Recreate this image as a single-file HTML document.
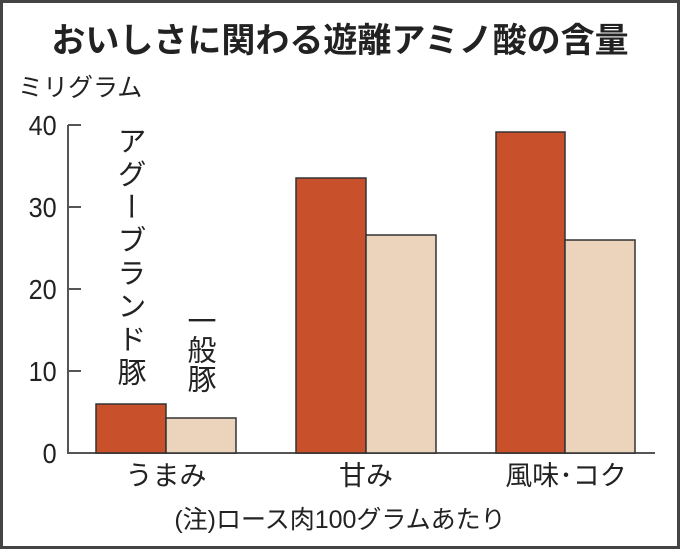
<!DOCTYPE html>
<html><head><meta charset="utf-8"><style>
body{margin:0;background:#fff;}
</style></head><body>
<svg width="680" height="549" xmlns="http://www.w3.org/2000/svg" font-family="Liberation Sans, Noto Sans CJK JP, sans-serif">
<rect x="1.5" y="1.5" width="677" height="546" fill="#fff" stroke="#444" stroke-width="3"/>
<text x="340" y="52" text-anchor="middle" font-size="34" font-weight="bold" fill="#222">おいしさに関わる遊離アミノ酸の含量</text>
<text x="18" y="96" font-size="25" fill="#222">ミリグラム</text>
<g stroke="#555" stroke-width="2" fill="none">
<path d="M68,125 V453 H655"/>
<path d="M68,125 H81 M68,207 H81 M68,289 H81 M68,371 H81"/>
</g>
<g font-size="28" fill="#222" text-anchor="end" transform="scale(0.9,1)">
<text x="63" y="135">40</text><text x="63" y="217">30</text><text x="63" y="299">20</text><text x="63" y="381">10</text><text x="63" y="463">0</text>
</g>
<g stroke="#333" stroke-width="1.5">
<rect x="96" y="404" width="70" height="49" fill="#c8512b"/>
<rect x="166" y="418" width="70" height="35" fill="#ecd3bb"/>
<rect x="296" y="178" width="70" height="275" fill="#c8512b"/>
<rect x="366" y="235" width="70" height="218" fill="#ecd3bb"/>
<rect x="496" y="132" width="69" height="321" fill="#c8512b"/>
<rect x="565" y="240" width="70" height="213" fill="#ecd3bb"/>
</g>
<g font-size="29" fill="#222" text-anchor="start">
<text x="129" y="126" style="writing-mode:vertical-rl;letter-spacing:4px">アグーブランド豚</text>
<text x="199" y="306" style="writing-mode:vertical-rl">一般豚</text>
</g>
<g font-size="27" fill="#222" text-anchor="middle">
<text x="166" y="485">うまみ</text>
<text x="366" y="485">甘み</text>
<text x="566" y="485">風味･コク</text>
<text x="340" y="528" font-size="25">(注)ロース肉100グラムあたり</text>
</g>
</svg>
</body></html>
